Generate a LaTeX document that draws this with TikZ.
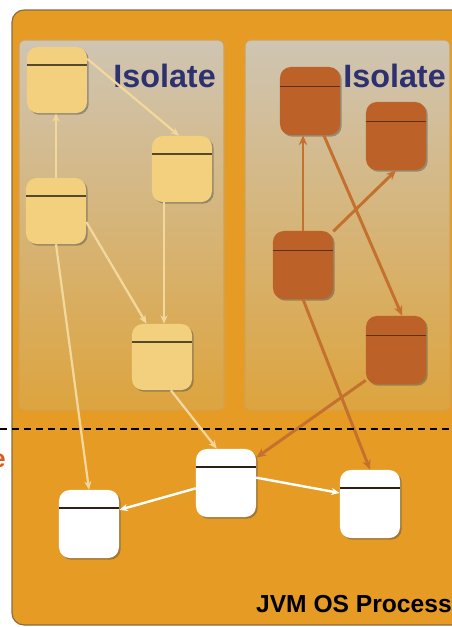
\documentclass[tikz,border=0pt]{standalone}
\usepackage{fontspec}
\setmainfont{Liberation Sans}
\usepackage{tikz}
\usepackage{xcolor}
\usetikzlibrary{positioning,arrows.meta,shadows}
\definecolor{ProcessOrange}{HTML}{E69B24}
\definecolor{ProcessEdge}{HTML}{8A6A3A}
\definecolor{PanelTop}{HTML}{CFC5B3}
\definecolor{PanelMid}{HTML}{D3B070}
\definecolor{PanelBottom}{HTML}{DDA43E}
\definecolor{PanelEdge}{HTML}{D2A256}
\definecolor{LightBox}{HTML}{F3D07E}
\definecolor{LightLine}{HTML}{F2D89C}
\definecolor{BrownBox}{HTML}{BC6228}
\definecolor{BrownLine}{HTML}{C4702E}
\definecolor{IsolateText}{HTML}{2E3170}
\definecolor{CutText}{HTML}{E05A1A}

\begin{document}
\begin{tikzpicture}[x=0.025cm, y=-0.025cm,
    objbox/.style={rounded corners=0.27cm, minimum width=1.5cm, minimum height=1.65cm, inner sep=0pt,
      drop shadow={shadow xshift=1.2pt, shadow yshift=-1.2pt, opacity=0.45, fill=black!70}},
    lightbox/.style={objbox, fill=LightBox, path picture={\draw[black!65!LightBox, line width=0.9pt]
      ([yshift=-0.45cm]path picture bounding box.north west) -- ([yshift=-0.45cm]path picture bounding box.north east);}},
    brownbox/.style={objbox, minimum height=1.7cm, fill=BrownBox, path picture={\draw[black!50!BrownBox, line width=0.9pt]
      ([yshift=-0.48cm]path picture bounding box.north west) -- ([yshift=-0.48cm]path picture bounding box.north east);}},
    whitebox/.style={objbox, minimum height=1.7cm, fill=white, path picture={\draw[black!75!brown, line width=0.8pt]
      ([yshift=-0.45cm]path picture bounding box.north west) -- ([yshift=-0.45cm]path picture bounding box.north east);}},
    panel/.style={top color=PanelTop, middle color=PanelMid, bottom color=PanelBottom, draw=PanelEdge, line width=0.8pt, rounded corners=0.15cm},
    lightarrow/.style={-{Stealth[length=6pt, width=5pt]}, draw=LightLine, line width=1.6pt},
    brownarrow/.style={-{Stealth[length=7pt, width=6pt]}, draw=BrownLine, line width=2.1pt},
    whitearrow/.style={-{Stealth[length=6pt, width=5pt]}, draw=white, line width=1.7pt}]
    \useasboundingbox (0,0) rectangle (452,627);

    % process and the two isolates
    \draw[fill=ProcessOrange, draw=ProcessEdge, line width=0.8pt, rounded corners=0.3cm] (12,10) rectangle (480,625);
    \path[panel] (19,40) rectangle (224,410);
    \path[panel] (245,40) rectangle (450,410);

    \node[anchor=base west, font=\fontsize{23}{27}\selectfont\bfseries, text=IsolateText, inner sep=0pt] (leftlabel) at (113,87) {Isolate};
    \node[anchor=base west, font=\fontsize{23}{27}\selectfont\bfseries, text=IsolateText, inner sep=0pt] (rightlabel) at (343,87) {Isolate};

    % left isolate
    \node[lightbox] (a) at (57,80) {};
    \node[lightbox] (b) at (182,169) {};
    \node[lightbox] (c) at (56,211) {};
    \node[lightbox] (d) at (162,357) {};

    % right isolate
    \node[brownbox] (e) at (310,101) {};
    \node[brownbox] (f) at (396,136) {};
    \node[brownbox] (g) at (303,265) {};
    \node[brownbox] (h) at (396,350) {};

    % shared heap
    \node[whitebox] (i) at (226,483) {};
    \node[whitebox] (j) at (89,524) {};
    \node[whitebox] (k) at (370,504) {};

    \draw[lightarrow] (a.35) -- (b.95);
    \draw[lightarrow] (c.north) -- (c.north |- a.south);
    \draw[lightarrow] (c.-20) -- (d.115);
    \draw[lightarrow] ([xshift=-0.45cm]b.south) -- ([xshift=-0.45cm]b.south |- d.north);
    \draw[lightarrow] (c.south) -- (j.north);
    \draw[lightarrow] (d.-75) -- (i.105);

    \draw[brownarrow] (g.north) -- (g.north |- e.south);
    \draw[brownarrow] (e.-68) -- (h.80);
    \draw[brownarrow] (g.48) -- (f.south);
    \draw[brownarrow] (g.south) -- (k.north);
    \draw[brownarrow] (h.225) -- (i.40);

    \draw[whitearrow] (i.190) -- (j.25);
    \draw[whitearrow] (i.10) -- (k.160);

    \coordinate (cutleft) at (0,429);
    \coordinate (cutright) at (452,429);
    \draw[dash pattern=on 5pt off 3.5pt, line width=0.9pt] (cutleft) -- (cutright);

    \node[anchor=base east, font=\fontsize{18}{22}\selectfont\bfseries, text=CutText, inner sep=0pt] (cut) at (6,467) {e};
    \node[anchor=base east, font=\fontsize{17.5}{21}\selectfont\bfseries, inner sep=0pt] (process) at (452,612) {JVM OS Process};
  \end{tikzpicture}
\end{document}
